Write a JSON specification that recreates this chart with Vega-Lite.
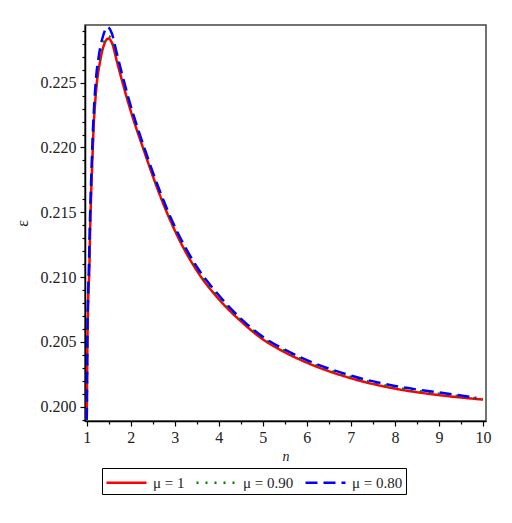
{
  "$schema": "https://vega.github.io/schema/vega-lite/v6.json",
  "width": 401,
  "height": 396,
  "autosize": "none",
  "padding": {"left": 85, "top": 25, "right": 26, "bottom": 102},
  "config": {
    "view": {"stroke": "#444444", "strokeWidth": 1.5},
    "font": "Liberation Serif",
    "axis": {"domainColor": "#000000", "tickColor": "#000000", "labelColor": "#222222", "titleColor": "#222222", "grid": false}
  },
  "data": {
    "values": [
      {"n": 1.0, "e": 0.1990, "mu": "μ = 1"},
      {"n": 1.015, "e": 0.2050, "mu": "μ = 1"},
      {"n": 1.03, "e": 0.2080, "mu": "μ = 1"},
      {"n": 1.06, "e": 0.2108, "mu": "μ = 1"},
      {"n": 1.075, "e": 0.2134, "mu": "μ = 1"},
      {"n": 1.10, "e": 0.2165, "mu": "μ = 1"},
      {"n": 1.127, "e": 0.2190, "mu": "μ = 1"},
      {"n": 1.15, "e": 0.2211, "mu": "μ = 1"},
      {"n": 1.21, "e": 0.2243, "mu": "μ = 1"},
      {"n": 1.30, "e": 0.2266, "mu": "μ = 1"},
      {"n": 1.38, "e": 0.2278, "mu": "μ = 1"},
      {"n": 1.49, "e": 0.2284, "mu": "μ = 1"},
      {"n": 1.58, "e": 0.2280, "mu": "μ = 1"},
      {"n": 1.68, "e": 0.2267, "mu": "μ = 1"},
      {"n": 1.83, "e": 0.2248, "mu": "μ = 1"},
      {"n": 2.0, "e": 0.2228, "mu": "μ = 1"},
      {"n": 2.285, "e": 0.2199, "mu": "μ = 1"},
      {"n": 2.5, "e": 0.2178, "mu": "μ = 1"},
      {"n": 2.664, "e": 0.2163, "mu": "μ = 1"},
      {"n": 3.0, "e": 0.2136, "mu": "μ = 1"},
      {"n": 3.5, "e": 0.2105, "mu": "μ = 1"},
      {"n": 4.0, "e": 0.2083, "mu": "μ = 1"},
      {"n": 4.5, "e": 0.2066, "mu": "μ = 1"},
      {"n": 5.0, "e": 0.2052, "mu": "μ = 1"},
      {"n": 5.5, "e": 0.2042, "mu": "μ = 1"},
      {"n": 6.0, "e": 0.2034, "mu": "μ = 1"},
      {"n": 7.0, "e": 0.2022, "mu": "μ = 1"},
      {"n": 8.0, "e": 0.2014, "mu": "μ = 1"},
      {"n": 9.0, "e": 0.2009, "mu": "μ = 1"},
      {"n": 10.0, "e": 0.20055, "mu": "μ = 1"},

      {"n": 1.0, "e": 0.1990, "mu": "μ = 0.90"},
      {"n": 1.015, "e": 0.2051, "mu": "μ = 0.90"},
      {"n": 1.03, "e": 0.2082, "mu": "μ = 0.90"},
      {"n": 1.06, "e": 0.2110, "mu": "μ = 0.90"},
      {"n": 1.075, "e": 0.2136, "mu": "μ = 0.90"},
      {"n": 1.10, "e": 0.2167, "mu": "μ = 0.90"},
      {"n": 1.127, "e": 0.2192, "mu": "μ = 0.90"},
      {"n": 1.15, "e": 0.2213, "mu": "μ = 0.90"},
      {"n": 1.21, "e": 0.2245, "mu": "μ = 0.90"},
      {"n": 1.30, "e": 0.2268, "mu": "μ = 0.90"},
      {"n": 1.38, "e": 0.2280, "mu": "μ = 0.90"},
      {"n": 1.49, "e": 0.2286, "mu": "μ = 0.90"},
      {"n": 1.58, "e": 0.2282, "mu": "μ = 0.90"},
      {"n": 1.68, "e": 0.2269, "mu": "μ = 0.90"},
      {"n": 1.83, "e": 0.2250, "mu": "μ = 0.90"},
      {"n": 2.0, "e": 0.2230, "mu": "μ = 0.90"},
      {"n": 2.285, "e": 0.2200, "mu": "μ = 0.90"},
      {"n": 2.5, "e": 0.2179, "mu": "μ = 0.90"},
      {"n": 2.664, "e": 0.2164, "mu": "μ = 0.90"},
      {"n": 3.0, "e": 0.2137, "mu": "μ = 0.90"},
      {"n": 3.5, "e": 0.2106, "mu": "μ = 0.90"},
      {"n": 4.0, "e": 0.2084, "mu": "μ = 0.90"},
      {"n": 4.5, "e": 0.2067, "mu": "μ = 0.90"},
      {"n": 5.0, "e": 0.2053, "mu": "μ = 0.90"},
      {"n": 5.5, "e": 0.2043, "mu": "μ = 0.90"},
      {"n": 6.0, "e": 0.2035, "mu": "μ = 0.90"},
      {"n": 7.0, "e": 0.2023, "mu": "μ = 0.90"},
      {"n": 8.0, "e": 0.2015, "mu": "μ = 0.90"},
      {"n": 9.0, "e": 0.2010, "mu": "μ = 0.90"},
      {"n": 10.0, "e": 0.2006, "mu": "μ = 0.90"},

      {"n": 1.0, "e": 0.1990, "mu": "μ = 0.80"},
      {"n": 1.013, "e": 0.2052, "mu": "μ = 0.80"},
      {"n": 1.03, "e": 0.2085, "mu": "μ = 0.80"},
      {"n": 1.05, "e": 0.2110, "mu": "μ = 0.80"},
      {"n": 1.07, "e": 0.2140, "mu": "μ = 0.80"},
      {"n": 1.095, "e": 0.2170, "mu": "μ = 0.80"},
      {"n": 1.12, "e": 0.2195, "mu": "μ = 0.80"},
      {"n": 1.145, "e": 0.2217, "mu": "μ = 0.80"},
      {"n": 1.20, "e": 0.2249, "mu": "μ = 0.80"},
      {"n": 1.28, "e": 0.2272, "mu": "μ = 0.80"},
      {"n": 1.37, "e": 0.2286, "mu": "μ = 0.80"},
      {"n": 1.47, "e": 0.2293, "mu": "μ = 0.80"},
      {"n": 1.57, "e": 0.2288, "mu": "μ = 0.80"},
      {"n": 1.68, "e": 0.2273, "mu": "μ = 0.80"},
      {"n": 1.83, "e": 0.2253, "mu": "μ = 0.80"},
      {"n": 2.0, "e": 0.2232, "mu": "μ = 0.80"},
      {"n": 2.285, "e": 0.2202, "mu": "μ = 0.80"},
      {"n": 2.5, "e": 0.2181, "mu": "μ = 0.80"},
      {"n": 2.664, "e": 0.2166, "mu": "μ = 0.80"},
      {"n": 3.0, "e": 0.2139, "mu": "μ = 0.80"},
      {"n": 3.5, "e": 0.2108, "mu": "μ = 0.80"},
      {"n": 4.0, "e": 0.2086, "mu": "μ = 0.80"},
      {"n": 4.5, "e": 0.2068, "mu": "μ = 0.80"},
      {"n": 5.0, "e": 0.2054, "mu": "μ = 0.80"},
      {"n": 5.5, "e": 0.2044, "mu": "μ = 0.80"},
      {"n": 6.0, "e": 0.2036, "mu": "μ = 0.80"},
      {"n": 7.0, "e": 0.2024, "mu": "μ = 0.80"},
      {"n": 8.0, "e": 0.2016, "mu": "μ = 0.80"},
      {"n": 9.0, "e": 0.2011, "mu": "μ = 0.80"},
      {"n": 9.85, "e": 0.2007, "mu": "μ = 0.80"}
    ]
  },
  "layer": [
    {
      "mark": {"type": "line", "opacity": 0},
      "encoding": {
        "x": {"field": "n", "type": "quantitative", "scale": {"domain": [0.96, 10.07], "nice": false, "zero": false},
              "axis": {"values": [1.5, 2.5, 3.5, 4.5, 5.5, 6.5, 7.5, 8.5, 9.5], "labels": false, "domain": false, "ticks": true, "tickWidth": 1.2, "tickSize": 3, "title": null, "orient": "bottom"}},
        "y": {"field": "e", "type": "quantitative", "scale": {"domain": [0.1989, 0.22945], "nice": false, "zero": false},
              "axis": {"values": [0.199, 0.201, 0.202, 0.203, 0.204, 0.206, 0.207, 0.208, 0.209, 0.211, 0.212, 0.213, 0.214, 0.216, 0.217, 0.218, 0.219, 0.221, 0.222, 0.223, 0.224, 0.226, 0.227, 0.228, 0.229], "labels": false, "domain": false, "ticks": true, "tickWidth": 1.2, "tickSize": 3, "title": null, "orient": "left"}},
        "detail": {"field": "mu"}
      }
    },
    {
      "mark": {"type": "line", "strokeWidth": 2.5, "interpolate": "monotone"},
      "encoding": {
        "x": {"field": "n", "type": "quantitative", "scale": {"domain": [0.96, 10.07], "nice": false, "zero": false},
              "axis": {"values": [1, 2, 3, 4, 5, 6, 7, 8, 9, 10], "tickSize": 5, "tickWidth": 1.2, "labelFont": "Liberation Serif", "labelFontSize": 16, "labelPadding": 3, "title": "n", "titleFont": "Liberation Serif", "titleFontStyle": "italic", "titleFontWeight": "normal", "titleFontSize": 14, "titlePadding": 4, "orient": "bottom", "domainWidth": 1.5}},
        "y": {"field": "e", "type": "quantitative", "scale": {"domain": [0.1989, 0.22945], "nice": false, "zero": false},
              "axis": {"values": [0.200, 0.205, 0.210, 0.215, 0.220, 0.225], "format": ".3f", "tickSize": 5, "tickWidth": 1.2, "labelFont": "Liberation Serif", "labelFontSize": 16, "labelPadding": 4, "title": "ε", "titleFont": "Liberation Serif", "titleFontWeight": "normal", "titleFontSize": 16, "titlePadding": 10, "orient": "left", "domainWidth": 1.5}},
        "color": {"field": "mu", "type": "nominal",
                  "scale": {"domain": ["μ = 1", "μ = 0.90", "μ = 0.80"], "range": ["#ff0000", "#008000", "#0000ff"]},
                  "legend": {"orient": "none", "legendX": 17, "legendY": 443, "direction": "horizontal", "title": null, "strokeColor": "#000000", "padding": 3, "symbolType": "M-1,0H3", "symbolSize": 400, "symbolStrokeWidth": 2.5, "labelFontSize": 15, "labelFont": "Liberation Serif", "labelColor": "#222222", "columnPadding": 6, "labelOffset": 25}},
        "strokeDash": {"field": "mu", "type": "nominal",
                       "scale": {"domain": ["μ = 1", "μ = 0.90", "μ = 0.80"], "range": [[1, 0], [2, 7], [12, 6]]}}
      }
    }
  ],
  "resolve": {"scale": {"x": "independent", "y": "independent"}, "axis": {"x": "independent", "y": "independent"}}
}
